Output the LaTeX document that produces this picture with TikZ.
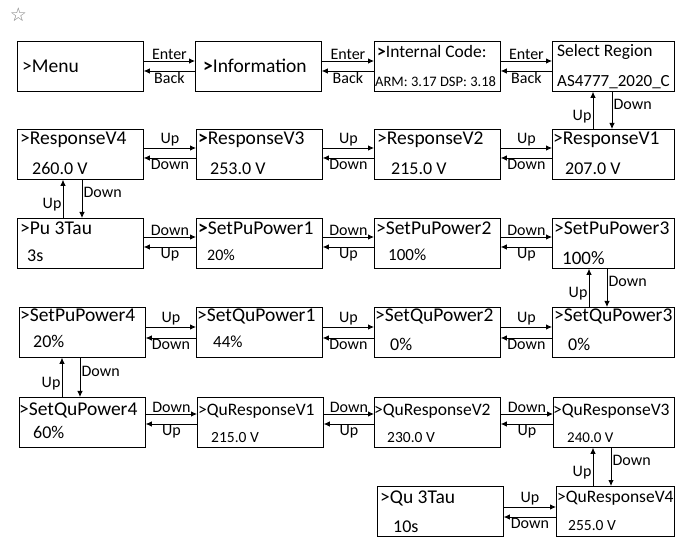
\documentclass[tikz,border=0pt]{standalone}
\usepackage{fontspec}
\setmainfont{Carlito}
\newfontfamily\symfont{DejaVu Sans}
\usetikzlibrary{arrows.meta}
\tikzset{
  scr/.style={draw, line width=0.8pt, minimum width=#1, minimum height=50pt, inner sep=0pt, anchor=north west},
  scr/.default=126pt,
  lab/.style={inner sep=1.2pt, font=\fontsize{16}{16}\selectfont},
  arr/.style={-{Latex[length=6pt,width=5.5pt]}, line width=0.8pt}
}
% text inside a screen: name, box, dx, dy(baseline), size, text
\newcommand\tx[6]{\node[anchor=base west, inner sep=0pt, font=\fontsize{#5}{#5}\selectfont] (#1) at ([shift={(#3pt,-#4pt)}]#2.north west) {#6};}
% horizontal pair: left, right, top offset, bottom offset, top label, bottom label, name
\newcommand\hpair[7]{%
  \coordinate (#7a) at ([yshift=-#3pt]#1.north east);
  \coordinate (#7b) at ([yshift=-#4pt]#1.north east);
  \draw[arr] (#7a) -- node[above,lab] (#7la) {#5} (#7a -| #2.west);
  \draw[arr] (#7b -| #2.west) -- node[below,lab] (#7lb) {#6} (#7b);}
% vertical pair: top, bottom, up x offset, down x offset, name
\newcommand\vpair[5]{%
  \coordinate (#5a) at ([xshift=#3pt]#1.south west);
  \coordinate (#5b) at ([xshift=#4pt]#1.south west);
  \draw[arr] (#5a |- #2.north) -- node[pos=0.34,left,lab] (#5la) {Up} (#5a);
  \draw[arr] (#5b) -- node[pos=0.34,right,lab] (#5lb) {Down} (#5b |- #2.north);}
\begin{document}
\begin{tikzpicture}[x=1pt,y=-1pt]
\useasboundingbox (0,0) rectangle (675,537);
\node[text=gray, inner sep=0pt, font=\symfont\fontsize{19}{19}\selectfont] (star) at (18.5,15) {☆};
% boxes
\node[scr] (menu) at (17,41) {};
\node[scr] (info) at (195,41) {};
\node[scr] (icode) at (374,41) {};
\node[scr=121.5pt] (sreg) at (552,41) {};
\node[scr] (rv4) at (17,129) {};
\node[scr] (rv3) at (196,129) {};
\node[scr] (rv2) at (374,129) {};
\node[scr=121.5pt] (rv1) at (552,129) {};
\node[scr] (pu3) at (17,218) {};
\node[scr] (spp1) at (196,218) {};
\node[scr] (spp2) at (374,218) {};
\node[scr=121.5pt] (spp3) at (552,218) {};
\node[scr] (spp4) at (19,307) {};
\node[scr] (sqp1) at (196,307) {};
\node[scr] (sqp2) at (374,307) {};
\node[scr=121.5pt] (sqp3) at (552,307) {};
\node[scr] (sqp4) at (19,397) {};
\node[scr] (qrv1) at (197,397) {};
\node[scr] (qrv2) at (374,397) {};
\node[scr=120.5pt] (qrv3) at (553,397) {};
\node[scr] (qu3) at (377,486) {};
\node[scr=117.5pt] (qrv4) at (556,486) {};
% texts
\tx{menuT}{menu}{5}{32}{19.5}{>Menu}
\tx{infoT}{info}{8}{32}{19.5}{\textbf{>}Information}
\tx{icodeT}{icode}{3}{17}{17.5}{\textbf{>}Internal Code:}
\tx{icodeV}{icode}{1}{46}{14.5}{ARM: 3.17 DSP: 3.18}
\tx{sregT}{sreg}{5}{16}{17.5}{Select Region}
\tx{sregV}{sreg}{5}{46}{17}{AS4777\_2020\_C}
\tx{rv4T}{rv4}{3}{16}{19.5}{>ResponseV4}
\tx{rv4V}{rv4}{15}{46}{18}{260.0 V}
\tx{rv3T}{rv3}{2}{16}{19.5}{\textbf{>}ResponseV3}
\tx{rv3V}{rv3}{14}{46}{18}{253.0 V}
\tx{rv2T}{rv2}{3}{16}{19.5}{>ResponseV2}
\tx{rv2V}{rv2}{17}{46}{18}{215.0 V}
\tx{rv1T}{rv1}{1}{16}{19.5}{>ResponseV1}
\tx{rv1V}{rv1}{13}{46}{18}{207.0 V}
\tx{pu3T}{pu3}{3}{17}{19.5}{>Pu 3Tau}
\tx{pu3V}{pu3}{10}{44}{18}{3s}
\tx{spp1T}{spp1}{2}{17}{19.5}{\textbf{>}SetPuPower1}
\tx{spp1V}{spp1}{11}{43}{16}{20\%}
\tx{spp2T}{spp2}{2}{17}{19.5}{>SetPuPower2}
\tx{spp2V}{spp2}{14}{43}{17}{100\%}
\tx{spp3T}{spp3}{2}{17}{19.5}{>SetPuPower3}
\tx{spp3V}{spp3}{10}{47}{19}{100\%}
\tx{spp4T}{spp4}{1}{15}{19.5}{>SetPuPower4}
\tx{spp4V}{spp4}{14}{41}{18}{20\%}
\tx{sqp1T}{sqp1}{1}{15}{19.5}{>SetQuPower1}
\tx{sqp1V}{sqp1}{17}{41}{17}{44\%}
\tx{sqp2T}{sqp2}{1}{15}{19.5}{>SetQuPower2}
\tx{sqp2V}{sqp2}{16}{44}{18}{0\%}
\tx{sqp3T}{sqp3}{2}{15}{19.5}{>SetQuPower3}
\tx{sqp3V}{sqp3}{16}{44}{18}{0\%}
\tx{sqp4T}{sqp4}{0}{18}{19.5}{>SetQuPower4}
\tx{sqp4V}{sqp4}{14}{41}{18}{60\%}
\tx{qrv1T}{qrv1}{1}{18}{17.5}{>QuResponseV1}
\tx{qrv1V}{qrv1}{14}{45}{15.5}{215.0 V}
\tx{qrv2T}{qrv2}{0}{18}{17.5}{>QuResponseV2}
\tx{qrv2V}{qrv2}{13}{45}{15.5}{230.0 V}
\tx{qrv3T}{qrv3}{0}{18}{17.5}{>QuResponseV3}
\tx{qrv3V}{qrv3}{14}{45}{15}{240.0 V}
\tx{qu3T}{qu3}{3}{17}{19.5}{>Qu 3Tau}
\tx{qu3V}{qu3}{16}{46}{18}{10s}
\tx{qrv4T}{qrv4}{1}{16}{17.5}{>QuResponseV4}
\tx{qrv4V}{qrv4}{12}{44}{15.5}{255.0 V}
% horizontal connectors
\hpair{menu}{info}{20}{30}{Enter}{Back}{hA}
\hpair{info}{icode}{20}{30}{Enter}{Back}{hB}
\hpair{icode}{sreg}{20}{30}{Enter}{Back}{hC}
\hpair{rv4}{rv3}{19}{29}{Up}{Down}{hD}
\hpair{rv3}{rv2}{19}{29}{Up}{Down}{hE}
\hpair{rv2}{rv1}{19}{29}{Up}{Down}{hF}
\hpair{pu3}{spp1}{19}{29}{Down}{Up}{hG}
\hpair{spp1}{spp2}{19}{29}{Down}{Up}{hH}
\hpair{spp2}{spp3}{19}{29}{Down}{Up}{hI}
\hpair{spp4}{sqp1}{20}{31}{Up}{Down}{hJ}
\hpair{sqp1}{sqp2}{20}{31}{Up}{Down}{hK}
\hpair{sqp2}{sqp3}{20}{31}{Up}{Down}{hL}
\hpair{sqp4}{qrv1}{17}{27}{Down}{Up}{hM}
\hpair{qrv1}{qrv2}{17}{27}{Down}{Up}{hN}
\hpair{qrv2}{qrv3}{17}{27}{Down}{Up}{hO}
\hpair{qu3}{qrv4}{21}{31}{Up}{Down}{hP}
% vertical connectors
\vpair{sreg}{rv1}{41}{60}{vA}
\vpair{rv4}{pu3}{46}{65}{vB}
\vpair{spp3}{sqp3}{37}{55}{vC}
\vpair{spp4}{sqp4}{43}{61}{vD}
\vpair{qrv3}{qrv4}{40}{58}{vE}
\end{tikzpicture}
\end{document}
